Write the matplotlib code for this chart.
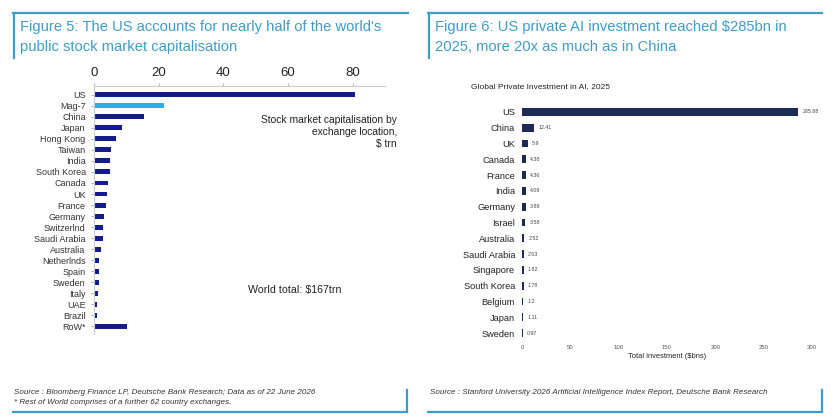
import matplotlib
matplotlib.use('Agg')
import matplotlib.pyplot as plt
from matplotlib.lines import Line2D

plt.rcParams['font.family'] = ['Liberation Sans', 'DejaVu Sans']

# Figure 5 data: stock market cap by exchange location, $ trn
mkt_names = ['US', 'Mag-7', 'China', 'Japan', 'Hong Kong', 'Taiwan', 'India',
             'South Korea', 'Canada', 'UK', 'France', 'Germany', 'Switzerlnd',
             'Saudi Arabia', 'Australia', 'Netherlnds', 'Spain', 'Sweden',
             'Italy', 'UAE', 'Brazil', 'RoW*']
mkt_vals = [80.6, 21.6, 15.4, 8.7, 6.8, 5.2, 5.1, 5.0, 4.4, 3.9, 3.6, 3.1, 2.7,
            2.7, 2.1, 1.6, 1.4, 1.4, 1.2, 1.0, 0.8, 10.3]
mkt_ticks = [0, 20, 40, 60, 80]

# Figure 6 data: private AI investment 2025, $bn
ai_names = ['US', 'China', 'UK', 'Canada', 'France', 'India', 'Germany', 'Israel',
            'Australia', 'Saudi Arabia', 'Singapore', 'South Korea', 'Belgium',
            'Japan', 'Sweden']
ai_vals = [285.88, 12.41, 5.9, 4.38, 4.36, 4.09, 3.89, 3.58, 2.52, 2.03, 1.82,
           1.78, 1.2, 1.11, 0.97]
ai_ticks = [0, 50, 100, 150, 200, 250, 300]

W, H = 836, 418
TEAL = '#3f9cc6'
NAVY = '#141c8c'
LIGHT = '#2aaee4'
AI_NAVY = '#1b2b55'

fig = plt.figure(figsize=(W / 100, H / 100), dpi=100)


def px_axes(x0, y0, x1, y1):
    # pixel box (top-left origin) -> figure axes
    return fig.add_axes([x0 / W, 1 - y1 / H, (x1 - x0) / W, (y1 - y0) / H])


def line(xs, ys, lw=1.6):
    fig.add_artist(Line2D([x / W for x in xs], [1 - y / H for y in ys],
                          color=TEAL, lw=lw, transform=fig.transFigure))


def txt(x, y, s, **kw):
    fig.text(x / W, 1 - y / H, s, **kw)


# header frames
line([13, 408], [13, 13])
line([13.5, 13.5], [13, 58])
line([428, 822], [13, 13])
line([429, 429], [13, 58])
txt(20, 27, "Figure 5: The US accounts for nearly half of the world's",
    color=TEAL, fontsize=10.6, va='center')
txt(20, 47, "public stock market capitalisation", color=TEAL, fontsize=10.6, va='center')
txt(435, 27, "Figure 6: US private AI investment reached $285bn in",
    color=TEAL, fontsize=10.6, va='center')
txt(435, 47, "2025, more 20x as much as in China", color=TEAL, fontsize=10.6, va='center')

# footer frames
line([13, 407], [412, 412])
line([407, 407], [390, 412])
line([428, 822], [412, 412])
line([822, 822], [390, 412])
txt(14, 392, "Source : Bloomberg Finance LP, Deutsche Bank Research; Data as of 22 June 2026",
    fontsize=5.8, style='italic', color='#333333', va='center')
txt(14, 403, "* Rest of World comprises of a further 62 country exchanges.",
    fontsize=5.8, style='italic', color='#333333', va='center')
txt(430, 392, "Source : Stanford University 2026 Artificial Intelligence Index Report, Deutsche Bank Research",
    fontsize=5.8, style='italic', color='#333333', va='center')

# ---- Figure 5 ----
ax = px_axes(94, 86, 385, 334)
ypos = list(range(len(mkt_names)))
cols = [LIGHT if n == 'Mag-7' else NAVY for n in mkt_names]
ax.barh(ypos, mkt_vals, height=0.45, color=cols)
ax.set_xlim(0, 90)
ax.set_ylim(len(mkt_names) - 0.3, -0.8)
ax.xaxis.tick_top()
ax.set_xticks(mkt_ticks)
ax.set_xticklabels([str(t) for t in mkt_ticks], fontsize=9.5, color='#222222')
ax.set_yticks(ypos)
ax.set_yticklabels(mkt_names, fontsize=6.5, color='#333333')
ax.tick_params(axis='x', length=2, color='#bbbbbb', pad=3)
ax.tick_params(axis='y', length=2, color='#bbbbbb', pad=4)
for s in ['right', 'bottom']:
    ax.spines[s].set_visible(False)
for s in ['top', 'left']:
    ax.spines[s].set_color('#cccccc')
    ax.spines[s].set_linewidth(0.8)
txt(397, 120, "Stock market capitalisation by", fontsize=7.4, ha='right', va='center', color='#222222')
txt(397, 132, "exchange location,", fontsize=7.4, ha='right', va='center', color='#222222')
txt(397, 144, "$ trn", fontsize=7.4, ha='right', va='center', color='#222222')
txt(248, 290, "World total: $167trn", fontsize=7.7, va='center', color='#222222')

# ---- Figure 6 ----
txt(471, 87, "Global Private Investment in AI, 2025", fontsize=6.0, va='center', color='#222222')
ax2 = px_axes(522, 104, 812, 341)
ypos2 = list(range(len(ai_names)))
ax2.barh(ypos2, ai_vals, height=0.5, color=AI_NAVY)
for y, v in zip(ypos2, ai_vals):
    ax2.annotate(f'{v:g}' if v != 4.38 and v != 4.36 else f'{v:.2f}', (v, y),
                 xytext=(3, 0), textcoords='offset points',
                 fontsize=3.8, va='center', color='#444444')
ax2.set_xlim(0, 300)
ax2.set_ylim(len(ai_names) - 0.5, -0.5)
ax2.set_xticks(ai_ticks)
ax2.set_xticklabels([str(t) for t in ai_ticks], fontsize=4.3, color='#555555')
ax2.set_yticks(ypos2)
ax2.set_yticklabels(ai_names, fontsize=6.7, color='#222222')
ax2.tick_params(length=0, pad=5)
ax2.tick_params(axis='x', pad=3)
ax2.set_xlabel('Total investment ($bns)', fontsize=5.4, color='#222222', labelpad=2)
for s in ax2.spines.values():
    s.set_visible(False)

fig.savefig('out.png', dpi=100, facecolor='white')
